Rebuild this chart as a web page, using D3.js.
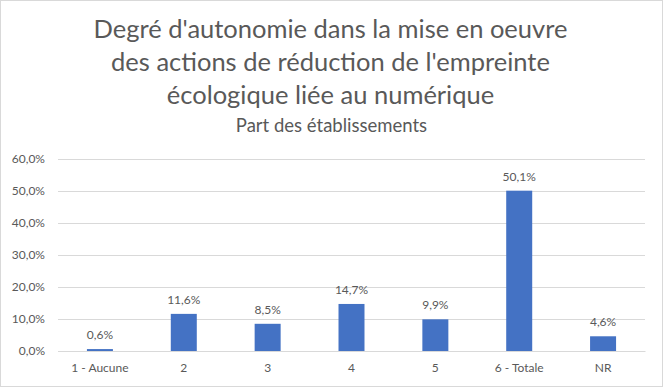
<!DOCTYPE html>
<html>
<head>
<meta charset="utf-8">
<script src="https://cdn.jsdelivr.net/npm/d3@7"></script>
<style>
  body { margin: 0; background: #fff; }
  svg { display: block; font-family: Lato, "Open Sans", sans-serif; }
</style>
</head>
<body>
<div id="chart"></div>
<script>
// Data
const categories = ['1 - Aucune', '2', '3', '4', '5', '6 - Totale', 'NR'];
const values = [0.6, 11.6, 8.5, 14.7, 9.9, 50.1, 4.6];
const yTicks = [0, 10, 20, 30, 40, 50, 60];
const titleLines = ["Degré d'autonomie dans la mise en oeuvre",
  "des actions de réduction de l'empreinte",
  "écologique liée au numérique"];
const subtitle = 'Part des établissements';

const WIDTH = 663;
const HEIGHT = 387;
const MARGIN = { left: 58, right: 18, top: 159, bottom: 36 };
const TEXT_COLOR = '#595959';

const fr = d3.formatLocale({ decimal: ',', thousands: ' ', grouping: [3], currency: ['', ' €'] });
const fmt = v => fr.format('.1f')(v) + '%';

const svg = d3.select('#chart')
  .append('svg')
  .attr('width', WIDTH)
  .attr('height', HEIGHT);

// chart border
svg.append('rect')
  .attr('x', 0.5).attr('y', 0.5)
  .attr('width', WIDTH - 1).attr('height', HEIGHT - 1)
  .attr('fill', '#fff')
  .attr('stroke', '#d9d9d9');

const x = d3.scaleBand()
  .domain(categories)
  .range([MARGIN.left, WIDTH - MARGIN.right])
  .paddingInner(0.69)
  .paddingOuter(0.345);

const y = d3.scaleLinear()
  .domain([0, 60])
  .range([HEIGHT - MARGIN.bottom, MARGIN.top]);

// title
const title = svg.append('g').attr('fill', TEXT_COLOR).attr('text-anchor', 'middle');
title.selectAll('text.t')
  .data(titleLines)
  .join('text')
  .attr('class', 't')
  .attr('x', WIDTH / 2 - 1)
  .attr('y', (d, i) => 38 + i * 33)
  .style('font-size', '25.5px')
  .text(d => d);

title.append('text')
  .attr('x', WIDTH / 2)
  .attr('y', 132)
  .style('font-size', '18.5px')
  .text(subtitle);

// y axis with gridlines
const yAxis = svg.append('g')
  .attr('transform', `translate(${MARGIN.left},0)`)
  .call(d3.axisLeft(y).tickValues(yTicks).tickFormat(fmt)
    .tickSize(-(WIDTH - MARGIN.right - MARGIN.left)).tickPadding(13));
yAxis.select('.domain').remove();
yAxis.selectAll('line').attr('stroke', '#d9d9d9');
yAxis.selectAll('text')
  .attr('fill', TEXT_COLOR)
  .style('font-size', '12px')
  .style('font-family', 'Lato, sans-serif');

// x axis
const xAxis = svg.append('g')
  .attr('transform', `translate(0,${y(0)})`)
  .call(d3.axisBottom(x).tickSize(0).tickPadding(12));
xAxis.select('.domain').attr('stroke', '#d9d9d9');
xAxis.selectAll('text')
  .attr('fill', TEXT_COLOR)
  .style('font-size', '12px')
  .style('font-family', 'Lato, sans-serif');

// bars
svg.append('g')
  .selectAll('rect')
  .data(values)
  .join('rect')
  .attr('x', (d, i) => x(categories[i]))
  .attr('y', d => y(d))
  .attr('width', x.bandwidth())
  .attr('height', d => y(0) - y(d))
  .attr('fill', '#4472c4');

// value labels
svg.append('g')
  .selectAll('text')
  .data(values)
  .join('text')
  .attr('x', (d, i) => x(categories[i]) + x.bandwidth() / 2)
  .attr('y', d => y(d) - 10)
  .attr('text-anchor', 'middle')
  .attr('fill', TEXT_COLOR)
  .style('font-size', '12px')
  .text(d => fmt(d));
</script>
</body>
</html>
